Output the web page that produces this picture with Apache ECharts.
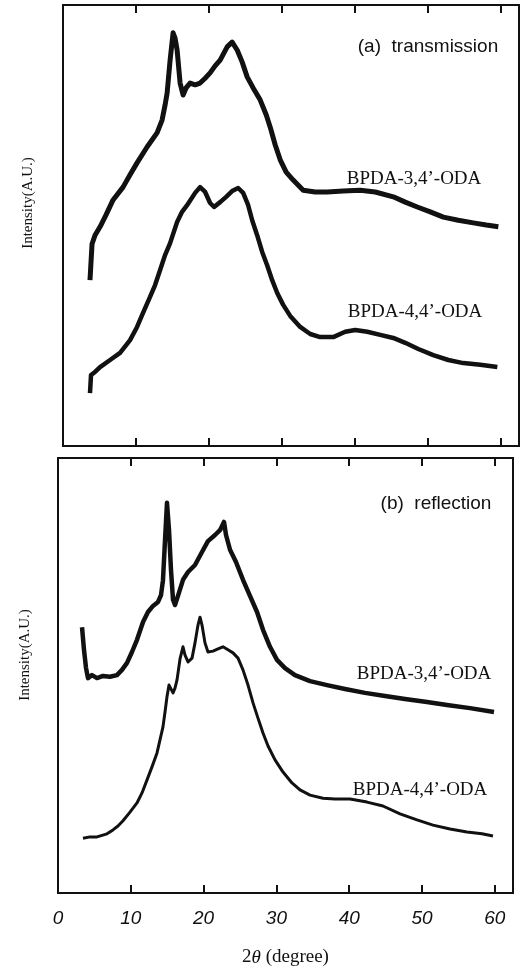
<!DOCTYPE html>
<html>
<head>
<meta charset="utf-8">
<script src="https://cdn.jsdelivr.net/npm/echarts@6/dist/echarts.min.js"></script>
<style>
  html, body { margin: 0; padding: 0; background: #fff; }
  #chart { width: 522px; height: 971px; }
</style>
</head>
<body>
<div id="chart"></div>
<script>
// 2theta (degree) vs intensity (arbitrary units, 0-100 per panel)
const xTicks = [0, 10, 20, 30, 40, 50, 60]

// (a) transmission, BPDA-3,4'-ODA
const trans34 = [
  [3.70, 37.6], [3.98, 45.8], [4.39, 47.8], [5.08, 49.7], [5.90, 52.4], [6.86, 55.8],
  [8.23, 58.7], [9.19, 61.5], [10.15, 64.2], [11.52, 67.8], [12.89, 71.0], [13.58, 73.9],
  [13.99, 77.3], [14.27, 80.0], [14.68, 87.5], [15.09, 93.7], [15.36, 92.5], [15.64, 89.8],
  [16.05, 82.3], [16.46, 79.6], [16.87, 81.2], [17.42, 82.3], [18.11, 81.9], [18.79, 82.3],
  [19.48, 83.4], [20.16, 84.6], [20.85, 86.2], [21.54, 87.5], [22.50, 90.5], [23.18, 91.6],
  [23.87, 89.8], [24.55, 87.1], [25.24, 83.7], [26.06, 81.2], [27.02, 78.5], [27.85, 75.1],
  [28.40, 72.3], [29.08, 68.3], [29.77, 64.9], [30.59, 62.1], [31.55, 60.3], [32.92, 58.0],
  [34.57, 57.6], [36.21, 57.6], [38.41, 57.8], [40.74, 58.0], [42.80, 57.6], [45.27, 56.5],
  [46.91, 55.3], [48.56, 54.2], [50.34, 53.1], [52.13, 51.9], [54.18, 51.2], [56.24, 50.6],
  [58.02, 50.1], [59.67, 49.7]
]

// (a) transmission, BPDA-4,4'-ODA
const trans44 = [
  [3.70, 12.0], [3.84, 16.1], [4.39, 16.8], [5.08, 17.9], [6.45, 19.5], [7.82, 21.1],
  [9.19, 24.0], [10.15, 27.0], [10.97, 30.2], [11.93, 33.8], [12.62, 36.5], [13.31, 39.9],
  [13.99, 43.3], [14.68, 46.0], [15.64, 50.8], [16.32, 53.1], [17.01, 54.6], [18.11, 57.4],
  [18.79, 58.7], [19.48, 57.6], [20.16, 55.1], [20.71, 54.2], [21.54, 55.3], [22.36, 56.5],
  [23.18, 57.8], [24.01, 58.5], [24.69, 57.4], [25.38, 54.6], [25.93, 51.2], [26.61, 47.8],
  [27.30, 44.0], [27.98, 41.0], [28.67, 37.6], [29.36, 34.7], [30.18, 32.0], [31.14, 29.5],
  [32.51, 27.0], [33.88, 25.4], [35.25, 24.7], [37.04, 24.7], [38.68, 25.9], [40.05, 26.3],
  [41.70, 25.9], [43.48, 25.2], [45.27, 24.5], [46.91, 23.4], [48.70, 22.0], [50.75, 20.6],
  [52.81, 19.5], [54.87, 18.8], [57.20, 18.4], [59.53, 17.9]
]

// (b) reflection, BPDA-3,4'-ODA
const refl34 = [
  [3.30, 61.1], [3.57, 55.9], [3.85, 51.7], [4.12, 49.4], [4.67, 50.1], [5.36, 49.4],
  [6.18, 49.9], [7.14, 49.7], [8.10, 50.1], [8.79, 51.3], [9.48, 52.9], [10.16, 55.4],
  [10.85, 58.2], [11.68, 62.3], [12.36, 64.6], [13.05, 66.0], [13.74, 66.9], [14.15, 68.5],
  [14.42, 71.9], [14.70, 81.1], [14.97, 89.7], [15.25, 83.4], [15.52, 74.3], [15.80, 67.4],
  [16.07, 66.2], [16.48, 68.3], [17.17, 72.0], [17.86, 73.8], [18.82, 75.4], [19.78, 78.4],
  [20.60, 80.9], [21.57, 82.3], [22.25, 83.4], [22.80, 85.3], [23.08, 82.3], [23.63, 78.9],
  [24.45, 76.1], [25.41, 72.0], [26.37, 68.3], [27.34, 64.6], [28.16, 60.5], [29.12, 56.6],
  [30.08, 53.6], [31.18, 51.7], [32.55, 50.1], [34.62, 48.7], [36.95, 47.8], [39.42, 46.9],
  [42.17, 46.0], [44.92, 45.3], [47.66, 44.6], [50.69, 43.9], [53.43, 43.2], [56.59, 42.5],
  [59.89, 41.6]
]

// (b) reflection, BPDA-4,4'-ODA
const refl44 = [
  [3.43, 12.6], [4.40, 12.9], [5.36, 12.9], [6.73, 13.6], [7.55, 14.5], [8.24, 15.4],
  [8.93, 16.6], [9.89, 18.6], [10.85, 20.7], [11.54, 23.0], [12.23, 26.0], [12.91, 29.0],
  [13.60, 32.2], [14.01, 35.2], [14.42, 38.2], [14.70, 41.6], [14.97, 45.1], [15.25, 47.8],
  [15.52, 47.8], [15.80, 46.0], [16.07, 47.1], [16.35, 49.0], [16.76, 53.8], [17.17, 56.6],
  [17.45, 54.7], [17.86, 53.1], [18.41, 54.0], [18.82, 57.5], [19.23, 61.6], [19.51, 63.4],
  [19.78, 61.6], [20.19, 57.5], [20.60, 55.4], [21.29, 55.6], [21.98, 56.1], [22.66, 56.6],
  [23.35, 55.9], [24.04, 55.2], [24.73, 54.0], [25.41, 51.3], [26.10, 47.8], [26.79, 43.7],
  [27.47, 40.2], [28.16, 36.8], [28.85, 33.8], [29.81, 30.6], [30.91, 27.8], [32.14, 25.3],
  [33.24, 23.7], [34.62, 22.5], [36.40, 21.8], [38.05, 21.6], [40.11, 21.6], [42.45, 20.9],
  [44.64, 20.0], [46.98, 18.2], [49.31, 16.8], [51.51, 15.6], [53.85, 14.7], [56.18, 14.0],
  [58.24, 13.6], [59.75, 13.1]
]

const ink = '#111'
const serif = '"Liberation Serif", "DejaVu Serif", serif'
const sans = '"Liberation Sans", Arial, sans-serif'

let dom = echarts.init(document.getElementById('chart'))

function xAxisFor (gridIndex, position, showLabels) {
  return {
    type: 'value',
    gridIndex: gridIndex,
    position: position,
    min: 0,
    max: 62.5,
    interval: 10,
    axisLine: { show: false },
    axisTick: { show: true, inside: true, length: 8, lineStyle: { color: ink, width: 2 } },
    splitLine: { show: false },
    axisLabel: {
      show: showLabels,
      margin: 16,
      color: ink,
      fontFamily: sans,
      fontStyle: 'italic',
      fontSize: 19,
      formatter: function (v) { return xTicks.indexOf(v) >= 0 ? String(v) : '' }
    }
  }
}

function yAxisFor (gridIndex) {
  return {
    type: 'value',
    gridIndex: gridIndex,
    min: 0,
    max: 100,
    axisLine: { show: false },
    axisTick: { show: false },
    axisLabel: { show: false },
    splitLine: { show: false }
  }
}

function curve (data, axis, width) {
  return {
    type: 'line',
    xAxisIndex: axis,
    yAxisIndex: axis < 2 ? 0 : 1,
    data: data,
    showSymbol: false,
    silent: true,
    lineStyle: { color: ink, width: width, join: 'round' }
  }
}

function label (text, x, y, font, rotate) {
  return {
    type: 'text',
    x: x,
    y: y,
    rotation: rotate ? Math.PI / 2 : 0,
    style: { text: text, font: font, fill: ink, align: 'center', verticalAlign: 'middle' }
  }
}

let option = {
  backgroundColor: '#fff',
  animation: false,
  grid: [
    { left: 63, top: 5, width: 456, height: 441, show: true, borderColor: ink, borderWidth: 2 },
    { left: 58, top: 458, width: 455, height: 435, show: true, borderColor: ink, borderWidth: 2 }
  ],
  xAxis: [
    xAxisFor(0, 'bottom', false),
    xAxisFor(0, 'top', false),
    Object.assign(xAxisFor(1, 'bottom', true), {
      name: '2{t|θ} (degree)',
      nameLocation: 'middle',
      nameGap: 55,
      nameTextStyle: {
        color: ink,
        fontFamily: serif,
        fontSize: 19,
        rich: { t: { fontFamily: serif, fontSize: 19, fontStyle: 'italic', color: ink } }
      }
    }),
    xAxisFor(1, 'top', false)
  ],
  yAxis: [yAxisFor(0), yAxisFor(1)],
  series: [
    curve(trans34, 0, 5),
    curve(trans44, 0, 4.5),
    curve(refl34, 2, 4.5),
    curve(refl44, 2, 3)
  ],
  graphic: [
    label('(a)  transmission', 428, 47, '19px ' + sans),
    label('BPDA-3,4’-ODA', 414, 179, '19px ' + serif),
    label('BPDA-4,4’-ODA', 415, 312, '19px ' + serif),
    label('Intensity(A.U.)', 28, 203, '15px ' + serif, true),
    label('(b)  reflection', 436, 504, '19px ' + sans),
    label('BPDA-3,4’-ODA', 424, 674, '19px ' + serif),
    label('BPDA-4,4’-ODA', 420, 790, '19px ' + serif),
    label('Intensity(A.U.)', 25, 655, '15px ' + serif, true)
  ]
}

dom.setOption(option)
</script>
</body>
</html>
